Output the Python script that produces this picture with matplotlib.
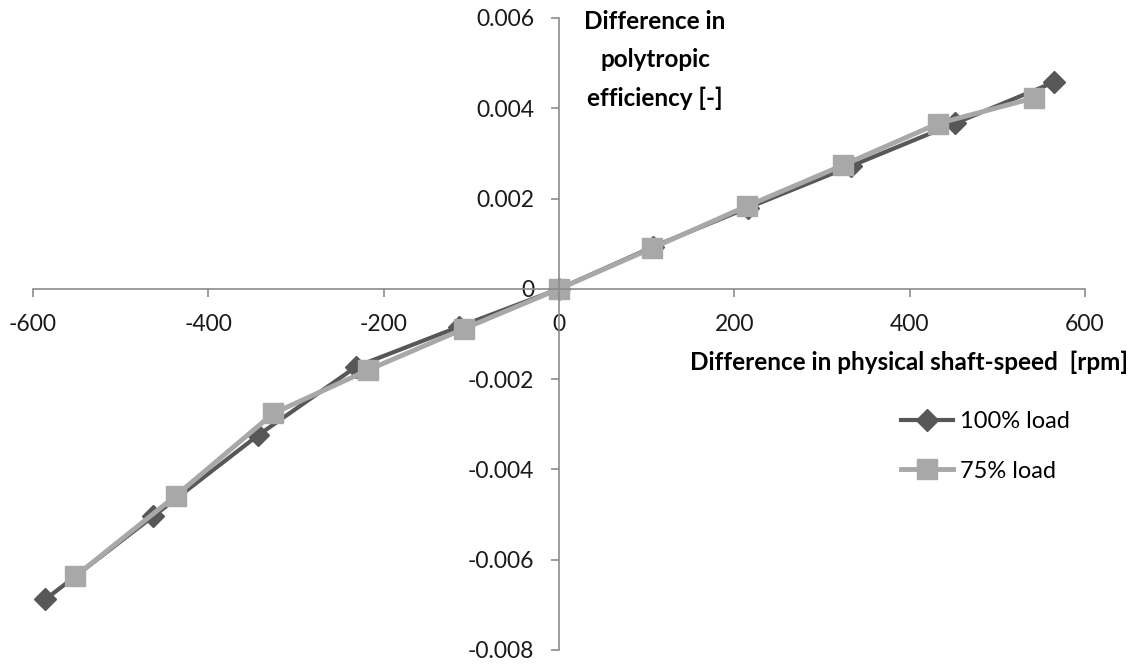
import numpy as np
import matplotlib.pyplot as plt

plt.rcParams['font.family'] = ['Lato', 'DejaVu Sans']

# 100% load (diamonds)
speed_100 = [-586, -463, -343, -231, -114, 0, 107, 216, 333, 452, 565]
eff_100 = [-0.00688, -0.00504, -0.00324, -0.00172, -0.00084, 0.0,
           0.00093, 0.00180, 0.00272, 0.00367, 0.00458]

# 75% load (squares)
speed_75 = [-552, -437, -326, -218, -108, 0, 106, 214, 324, 432, 542]
eff_75 = [-0.00637, -0.00458, -0.00276, -0.00180, -0.00088, 0.0,
          0.00090, 0.00183, 0.00274, 0.00366, 0.00423]

x_ticks = [-600, -400, -200, 0, 200, 400, 600]
y_ticks = [-0.008, -0.006, -0.004, -0.002, 0, 0.002, 0.004, 0.006]

fig = plt.figure(figsize=(11.35, 6.64), dpi=100)
ax = fig.add_axes([33 / 1135, 1 - 650 / 664, (1085 - 33) / 1135, (650 - 18) / 664])

ax.plot(speed_100, eff_100, color='#575757', lw=3, marker='D', ms=11,
        mec='#575757', mfc='#575757', label='100% load')
ax.plot(speed_75, eff_75, color='#a8a8a8', lw=3.5, marker='s', ms=14,
        mec='#a8a8a8', mfc='#a8a8a8', label='75% load')

ax.set_xlim(-600, 600)
ax.set_ylim(-0.008, 0.006)
ax.set_xticks(x_ticks)
ax.set_xticklabels([str(v) for v in x_ticks])
ax.set_yticks(y_ticks)
ax.set_yticklabels(['0' if v == 0 else f'{v:.3f}' for v in y_ticks])

# axes cross at zero, Excel style
ax.spines['left'].set_position(('data', 0))
ax.spines['bottom'].set_position(('data', 0))
ax.spines['top'].set_visible(False)
ax.spines['right'].set_visible(False)
for s in ['left', 'bottom']:
    ax.spines[s].set_color('#8c8c8c')
    ax.spines[s].set_linewidth(1.2)
ax.tick_params(axis='x', direction='out', length=6, width=1.2, color='#8c8c8c',
               pad=12, labelsize=16.5, labelcolor='#1a1a1a')
ax.tick_params(axis='y', direction='out', length=6, width=1.2, color='#8c8c8c',
               pad=12, labelsize=16.5, labelcolor='#1a1a1a')

fig.text(655 / 1135, 1 - 10 / 664, 'Difference in\npolytropic\nefficiency [-]',
         ha='center', va='top', fontsize=17.5, fontweight='bold', linespacing=1.8)
fig.text(1128 / 1135, 1 - 362 / 664, 'Difference in physical shaft-speed  [rpm]',
         ha='right', va='center', fontsize=17.5, fontweight='bold')

ax.legend(loc='upper left', bbox_to_anchor=(880 / 1135, 1 - 390 / 664),
          bbox_transform=fig.transFigure, frameon=False, fontsize=17,
          handlelength=2.2, labelspacing=1.2, handletextpad=0.3)

fig.savefig('out.png', dpi=100)
